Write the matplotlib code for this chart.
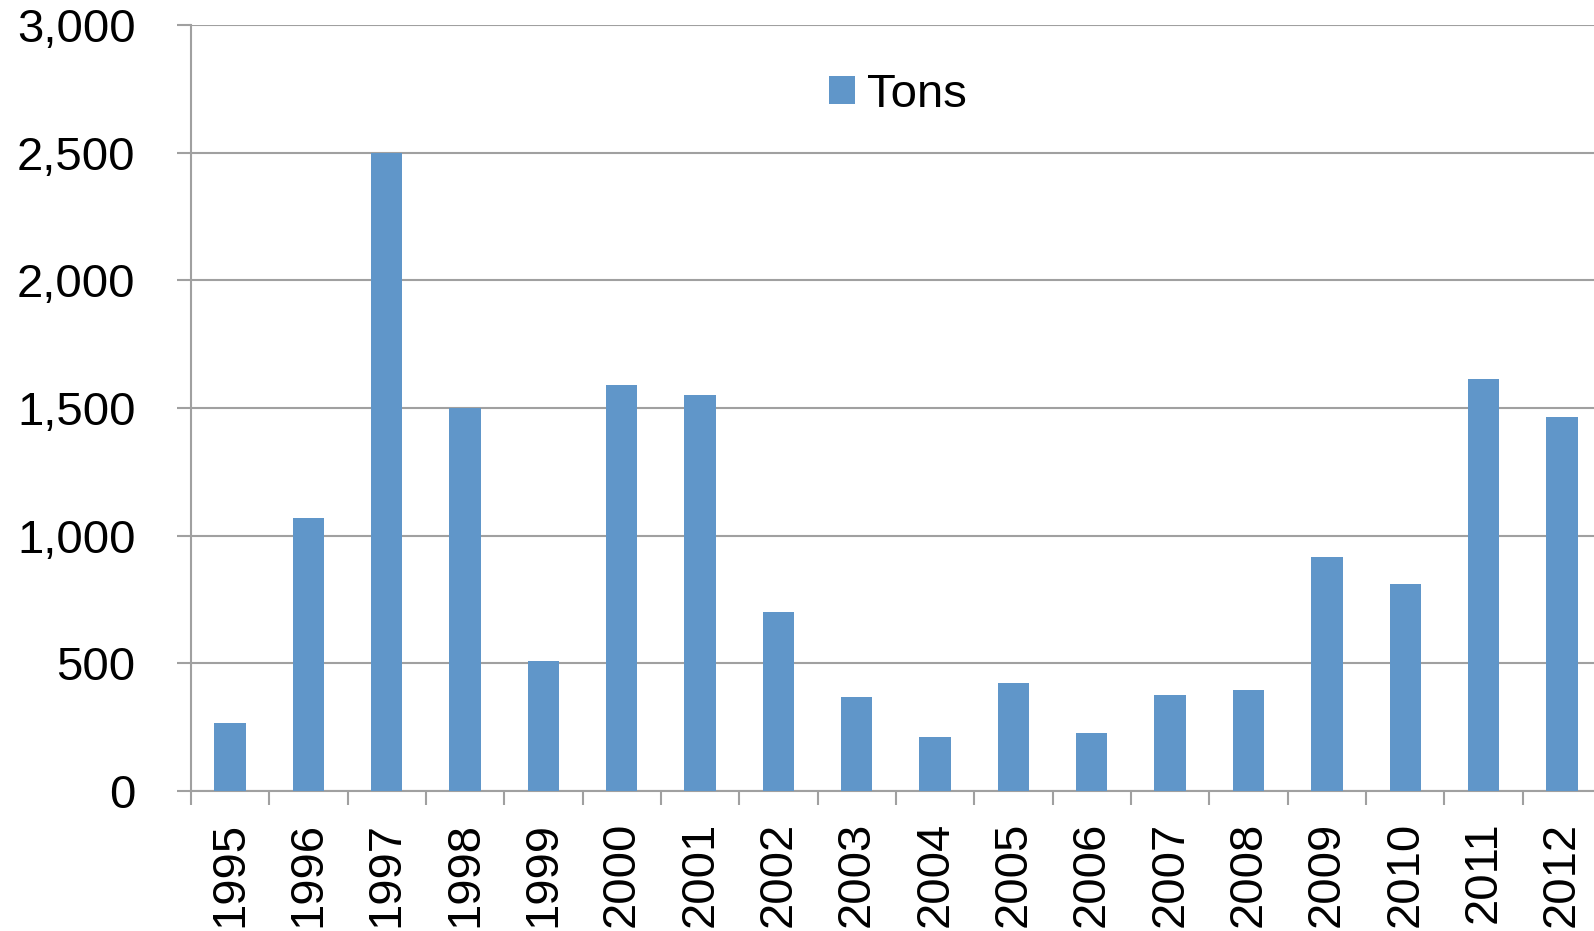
import numpy as np
import matplotlib
matplotlib.use("Agg")
import matplotlib.pyplot as plt
from matplotlib.ticker import FuncFormatter

# Data
years = ['1995', '1996', '1997', '1998', '1999', '2000', '2001', '2002', '2003',
         '2004', '2005', '2006', '2007', '2008', '2009', '2010', '2011', '2012']
tons = [265, 1070, 2500, 1500, 510, 1590, 1550, 700, 370,
        210, 422, 227, 374, 394, 916, 809, 1614, 1464]

plt.rcParams['font.family'] = ['Liberation Sans', 'DejaVu Sans']

fig = plt.figure(figsize=(15.94, 9.31), dpi=100)
ax = fig.add_axes([0.1198, 0.1504, 0.8846, 0.8228])

x = np.arange(len(years))
ax.bar(x, tons, width=0.4, color='#6096c9', label='Tons', zorder=3)

grey = '#a0a0a0'
ax.set_xlim(-0.5, len(years) - 0.5)
ax.set_ylim(0, 3000)
ax.set_yticks(np.arange(0, 3001, 500))
ax.yaxis.set_major_formatter(FuncFormatter(lambda v, p: '{:,.0f}'.format(v)))
ax.grid(axis='y', color=grey, linewidth=1.5, zorder=0)

# category boundaries as ticks, labels centred under bars
ax.set_xticks(np.arange(len(years)) - 0.5)
ax.set_xticklabels([])
ax.set_xticks(x, minor=True)
ax.set_xticklabels(years, minor=True, rotation=90, fontsize=34)
ax.tick_params(axis='x', which='major', length=10, width=1.5, color=grey, direction='out')
ax.tick_params(axis='x', which='minor', length=0, pad=22)
ax.tick_params(axis='y', length=10, width=1.5, color=grey, labelsize=34, pad=30)

for side in ['top', 'right']:
    ax.spines[side].set_visible(False)
for side in ['left', 'bottom']:
    ax.spines[side].set_color(grey)
    ax.spines[side].set_linewidth(1.5)

fig.legend(loc='center left', bbox_to_anchor=(0.520, 0.898), frameon=False,
           fontsize=34, handlelength=0.55, handleheight=0.55, handletextpad=0.25,
           borderpad=0, borderaxespad=0)

fig.savefig('out.png', dpi=100)
